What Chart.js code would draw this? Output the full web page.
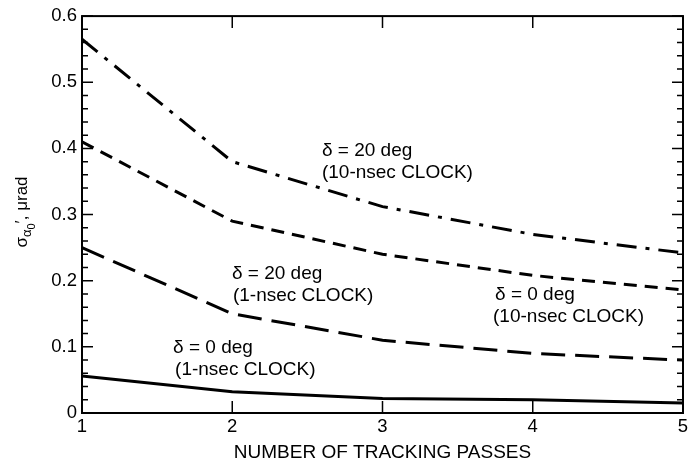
<!DOCTYPE html>
<html>
<head>
<meta charset="utf-8">
<script src="https://cdn.jsdelivr.net/npm/chart.js@4"></script>
<style>
  html, body { margin: 0; padding: 0; background: #fff; }
  #wrap { width: 693px; height: 469px; }
</style>
</head>
<body>
<div id="wrap"><canvas id="chart"></canvas></div>
<script>
// tracking passes on x
var passes = [1, 2, 3, 4, 5];

// sigma values, urad
var d20clock10 = [0.565, 0.38, 0.312, 0.27, 0.242];
var d0clock10  = [0.41, 0.29, 0.24, 0.208, 0.186];
var d20clock1  = [0.25, 0.15, 0.11, 0.09, 0.08];
var d0clock1   = [0.056, 0.032, 0.022, 0.02, 0.015];

var yTicks = [0, 0.1, 0.2, 0.3, 0.4, 0.5, 0.6];
var xTicks = [1, 2, 3, 4, 5];

// curve labels: text lines, anchored in data units
var curveNotes = [
    { x: 2.597, y: 0.3965, dx: [0, 0],  lines: ['\u03b4 = 20 deg', '(10-nsec CLOCK)'] },
    { x: 1.998, y: 0.211,  dx: [0, 1],  lines: ['\u03b4 = 20 deg', '(1-nsec CLOCK)'] },
    { x: 3.749, y: 0.178,  dx: [0, -2], lines: ['\u03b4 = 0 deg', '(10-nsec CLOCK)'] },
    { x: 1.606, y: 0.0988, dx: [0, 2],  lines: ['\u03b4 = 0 deg', '(1-nsec CLOCK)'] }
];

var FONT = '"Liberation Sans", Arial, sans-serif';
var FS = 19;

function pts(vals) {
    return vals.map(function (v, i) { return { x: passes[i], y: v }; });
}

// frame, inside ticks, notes and the y title
var framePlugin = {
    id: 'frame',
    afterDraw: function (chart) {
        var c = chart.ctx;
        var a = chart.chartArea;
        var xs = chart.scales.x, ys = chart.scales.y;
        c.save();
        c.strokeStyle = '#000';
        c.lineWidth = 2;
        c.strokeRect(a.left, a.top, a.right - a.left, a.bottom - a.top);

        c.lineWidth = 1.5;
        c.beginPath();
        for (var k = 0; k <= 30; k++) {
            var v = k * 0.02;
            var py = ys.getPixelForValue(v);
            var len = (k % 5 === 0) ? 11 : 6;
            c.moveTo(a.left, py); c.lineTo(a.left + len, py);
            c.moveTo(a.right, py); c.lineTo(a.right - len, py);
        }
        [2, 3, 4].forEach(function (t) {
            var px = xs.getPixelForValue(t);
            c.moveTo(px, a.bottom); c.lineTo(px, a.bottom - 12);
            c.moveTo(px, a.top); c.lineTo(px, a.top + 12);
        });
        c.stroke();

        c.fillStyle = '#000';
        c.font = FS + 'px ' + FONT;
        c.textAlign = 'left';
        c.textBaseline = 'middle';
        curveNotes.forEach(function (n) {
            var px = xs.getPixelForValue(n.x);
            var py = ys.getPixelForValue(n.y);
            n.lines.forEach(function (s, i) {
                c.fillText(s, px + n.dx[i], py + i * 22);
            });
        });

        // y title with nested subscripts
        c.translate(22, 212);
        c.rotate(-Math.PI / 2);
        var parts = [
            { t: '\u03c3', size: 17, dy: 0 },
            { t: '\u03b1', size: 13, dy: 5 },
            { t: '0', size: 11, dy: 10 },
            { t: '\u2032, \u03bcrad', size: 17, dy: 0 }
        ];
        var w = 0;
        parts.forEach(function (p) { c.font = p.size + 'px ' + FONT; w += c.measureText(p.t).width; });
        var x0 = -w / 2;
        parts.forEach(function (p) {
            c.font = p.size + 'px ' + FONT;
            c.fillText(p.t, x0, p.dy);
            x0 += c.measureText(p.t).width;
        });
        c.restore();
    }
};

function ds(vals, dash) {
    return {
        data: pts(vals),
        borderColor: '#000',
        borderWidth: 3,
        borderDash: dash,
        pointRadius: 0,
        tension: 0,
        fill: false
    };
}

new Chart(document.getElementById('chart'), {
    type: 'line',
    data: {
        datasets: [
            ds(d20clock10, [20, 9, 4, 9]),
            ds(d0clock10, [13, 8]),
            ds(d20clock1, [24, 10]),
            ds(d0clock1, [])
        ]
    },
    options: {
        responsive: true,
        maintainAspectRatio: false,
        animation: false,
        layout: { padding: { top: 12, right: 10, left: 0, bottom: 0 } },
        plugins: {
            legend: { display: false },
            tooltip: { enabled: false }
        },
        scales: {
            x: {
                type: 'linear',
                min: 1,
                max: 5,
                afterBuildTicks: function (s) { s.ticks = xTicks.map(function (v) { return { value: v }; }); },
                afterFit: function (s) { s.height = 56; },
                grid: { display: false, drawTicks: false },
                border: { display: false },
                ticks: {
                    color: '#000',
                    padding: 3,
                    font: { family: FONT, size: 18.5 }
                },
                title: {
                    display: true,
                    text: 'NUMBER OF TRACKING PASSES',
                    color: '#000',
                    padding: { top: 0, bottom: 5 },
                    font: { family: FONT, size: FS }
                }
            },
            y: {
                min: 0,
                max: 0.6,
                afterBuildTicks: function (s) { s.ticks = yTicks.map(function (v) { return { value: v }; }); },
                afterFit: function (s) { s.width = 82; },
                grid: { display: false, drawTicks: false },
                border: { display: false },
                ticks: {
                    color: '#000',
                    padding: 5,
                    font: { family: FONT, size: 18.5 },
                    callback: function (v) { return v === 0 ? '0' : v.toFixed(1); }
                }
            }
        }
    },
    plugins: [framePlugin]
});
</script>
</body>
</html>
